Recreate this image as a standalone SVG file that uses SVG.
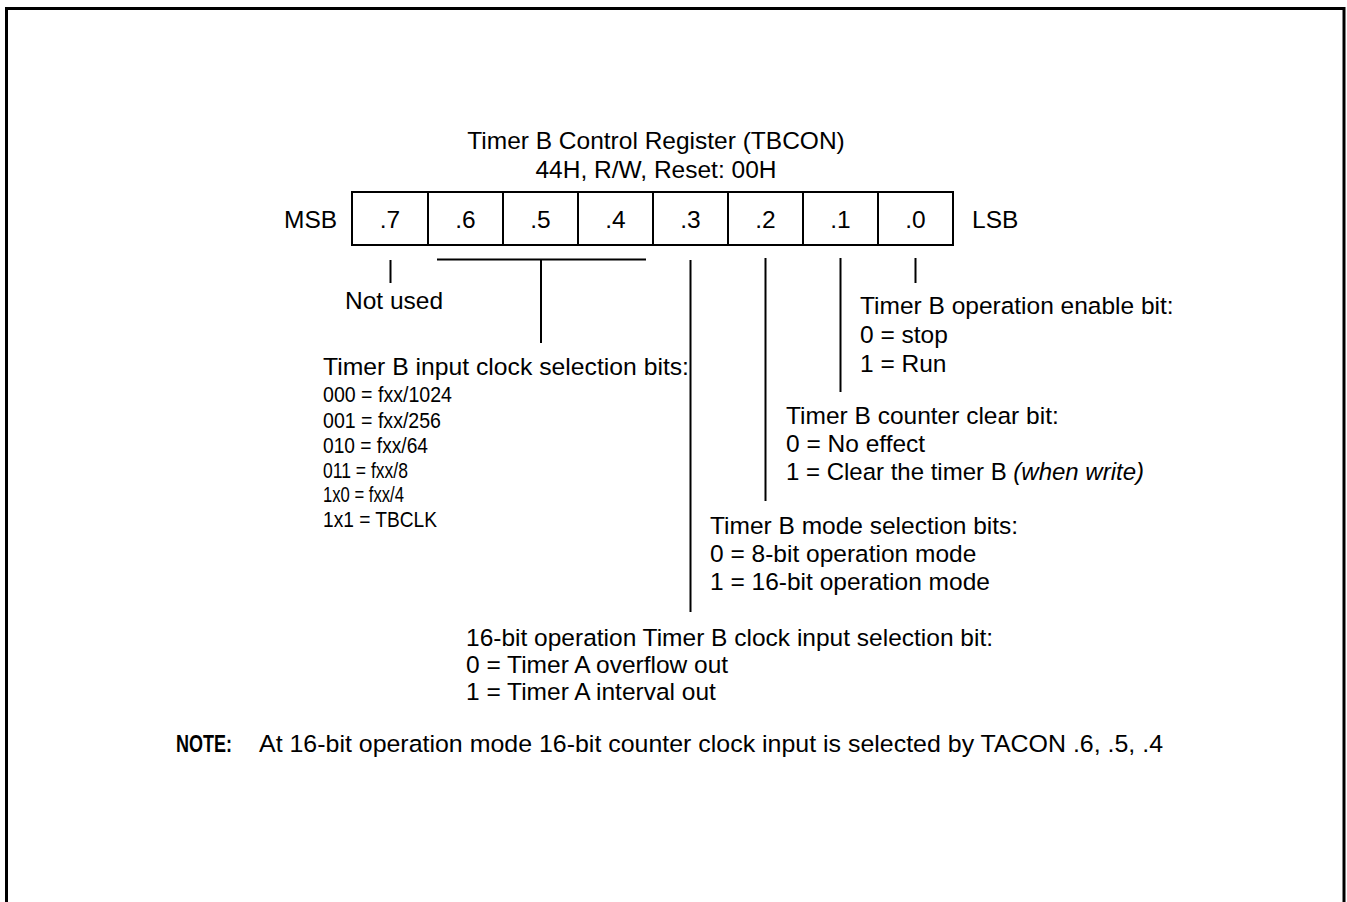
<svg xmlns="http://www.w3.org/2000/svg" width="1347" height="902" viewBox="0 0 1347 902">
<style>
text{font-family:"Liberation Sans",Arial,sans-serif;font-size:24.5px;fill:#000}
.c{text-anchor:middle}
.l{font-size:22px}
.b{font-weight:bold;font-size:23px}
.i{font-style:italic}
.ln{stroke:#000;stroke-width:2;fill:none}
</style>
<rect x="0" y="0" width="1347" height="902" fill="#fff"/>
<rect x="6.5" y="8.5" width="1337.5" height="920" fill="none" stroke="#000" stroke-width="3"/>
<g id="title">
<text class="c" x="656" y="149">Timer B Control Register (TBCON)</text>
<text class="c" x="656" y="178">44H, R/W, Reset: 00H</text>
</g>
<g id="register">
<rect class="ln" x="352" y="192" width="601" height="53"/>
<path class="ln" d="M428 192V245M503 192V245M578 192V245M653 192V245M728 192V245M803 192V245M878 192V245"/>
<text x="284" y="228">MSB</text>
<text x="972" y="228">LSB</text>
<text class="c" x="390" y="228">.7</text>
<text class="c" x="465.5" y="228">.6</text>
<text class="c" x="540.5" y="228">.5</text>
<text class="c" x="615.5" y="228">.4</text>
<text class="c" x="690.5" y="228">.3</text>
<text class="c" x="765.5" y="228">.2</text>
<text class="c" x="840.5" y="228">.1</text>
<text class="c" x="915.5" y="228">.0</text>
</g>
<g id="connectors">
<path class="ln" d="M390.5 260V283"/>
<path class="ln" d="M437 259.5H646M541 259.5V343"/>
<path class="ln" d="M690.5 260V612"/>
<path class="ln" d="M765.5 258V501"/>
<path class="ln" d="M840.5 258V392"/>
<path class="ln" d="M915.5 258V283"/>
</g>
<g id="bit7">
<text x="345" y="309">Not used</text>
</g>
<g id="bits654">
<text x="323" y="375" textLength="366" lengthAdjust="spacingAndGlyphs">Timer B input clock selection bits:</text>
<text class="l" x="323" y="402" textLength="129" lengthAdjust="spacingAndGlyphs">000 = fxx/1024</text>
<text class="l" x="323" y="428" textLength="118" lengthAdjust="spacingAndGlyphs">001 = fxx/256</text>
<text class="l" x="323" y="453" textLength="105" lengthAdjust="spacingAndGlyphs">010 = fxx/64</text>
<text class="l" x="323" y="478" textLength="85" lengthAdjust="spacingAndGlyphs">011 = fxx/8</text>
<text class="l" x="323" y="502" textLength="81" lengthAdjust="spacingAndGlyphs">1x0 = fxx/4</text>
<text class="l" x="323" y="527" textLength="114" lengthAdjust="spacingAndGlyphs">1x1 = TBCLK</text>
</g>
<g id="bit0">
<text x="860" y="314">Timer B operation enable bit:</text>
<text x="860" y="343">0 = stop</text>
<text x="860" y="372">1 = Run</text>
</g>
<g id="bit1">
<text x="786" y="424">Timer B counter clear bit:</text>
<text x="786" y="452">0 = No effect</text>
<text x="786" y="480" textLength="358" lengthAdjust="spacingAndGlyphs">1 = Clear the timer B <tspan class="i">(when write)</tspan></text>
</g>
<g id="bit2">
<text x="710" y="534">Timer B mode selection bits:</text>
<text x="710" y="562">0 = 8-bit operation mode</text>
<text x="710" y="590">1 = 16-bit operation mode</text>
</g>
<g id="bit3">
<text x="466" y="646" textLength="527" lengthAdjust="spacingAndGlyphs">16-bit operation Timer B clock input selection bit:</text>
<text x="466" y="673">0 = Timer A overflow out</text>
<text x="466" y="700">1 = Timer A interval out</text>
</g>
<g id="note">
<text class="b" x="176" y="752" textLength="56" lengthAdjust="spacingAndGlyphs">NOTE:</text>
<text x="259" y="752" textLength="904" lengthAdjust="spacingAndGlyphs">At 16-bit operation mode 16-bit counter clock input is selected by TACON .6, .5, .4</text>
</g>
</svg>
